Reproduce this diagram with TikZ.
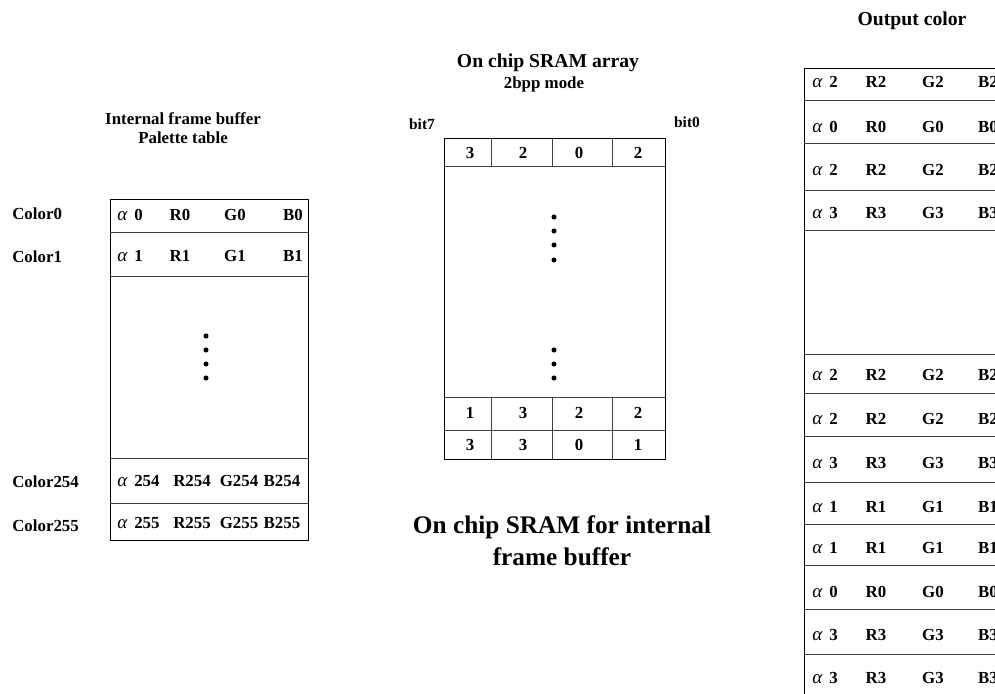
\documentclass[tikz,border=0pt]{standalone}
\usepackage{fontspec}
\setmainfont{Liberation Serif}

\newcommand{\galpha}{{\mdseries\itshape\fontsize{13.5}{14}\selectfont α}\hspace{5pt}}

\begin{document}
\begin{tikzpicture}[
    x=0.025cm, y=-0.025cm,
    txt/.style={font=\bfseries\fontsize{12}{14}\selectfont, inner sep=0pt},
    lft/.style={txt, anchor=west},
    ttl/.style={font=\bfseries\fontsize{14}{16}\selectfont, inner sep=0pt, align=center},
    frame/.style={draw, line width=0.7pt},
    sep/.style={draw=black!75, line width=0.7pt},
    dot/.style={fill, circle, inner sep=0pt, minimum size=3.6pt}
]
    \clip (0,0) rectangle (995,693);

    % Palette table
    \node[txt, align=center, font=\bfseries\fontsize{12}{13.5}\selectfont]
        (paltitle) at (183,128) {Internal frame buffer\\Palette table};
    \draw[frame] (110,199) rectangle (308,540);
    \foreach \y in {232,276,458,503}
        \draw[sep] (110,\y) -- (308,\y);

    \node[lft] (col0)   at (12,214) {Color0};
    \node[lft] (col1)   at (12,257) {Color1};
    \node[lft] (col254) at (12,482) {Color254};
    \node[lft] (col255) at (12,526) {Color255};

    \foreach \y/\k [count=\i] in {215/0,256/1} {
        \node[lft] (pa\i) at (117,\y) {\galpha\k};
        \node[txt] (pr\i) at (180,\y) {R\k};
        \node[txt] (pg\i) at (235,\y) {G\k};
        \node[txt] (pb\i) at (293,\y) {B\k};
    }
    \foreach \y/\k [count=\i from 3] in {481/254,523/255} {
        \node[lft] (pa\i) at (117,\y) {\galpha\k};
        \node[txt] (pr\i) at (192,\y) {R\k};
        \node[txt] (pg\i) at (239,\y) {G\k};
        \node[txt] (pb\i) at (282,\y) {B\k};
    }
    \foreach \y [count=\i] in {336,350,364,378}
        \node[dot] (pdot\i) at (206,\y) {};

    % SRAM array
    \node[ttl] (sramtitle) at (548,63) {On chip SRAM array};
    \node[txt] (sramsub) at (544,84) {2bpp mode};
    \node[txt, font=\bfseries\fontsize{11}{13}\selectfont] (bit7) at (422,124) {bit7};
    \node[txt, font=\bfseries\fontsize{11}{13}\selectfont] (bit0) at (687,122) {bit0};
    \draw[frame] (444,138) rectangle (665,459);
    \foreach \y in {166,397,430}
        \draw[sep] (444,\y) -- (665,\y);
    \foreach \x in {491,552,612} {
        \draw[sep] (\x,138) -- (\x,166);
        \draw[sep] (\x,397) -- (\x,459);
    }
    \foreach \a/\b/\c/\d/\y [count=\i] in {3/2/0/2/153, 1/3/2/2/413, 3/3/0/1/445} {
        \node[txt] (sa\i) at (470,\y) {\a};
        \node[txt] (sb\i) at (523,\y) {\b};
        \node[txt] (sc\i) at (579,\y) {\c};
        \node[txt] (sd\i) at (638,\y) {\d};
    }
    \foreach \y [count=\i] in {217,231,245,260}
        \node[dot] (sdot\i) at (554,\y) {};
    \foreach \y [count=\i from 5] in {350,364,378}
        \node[dot] (sdot\i) at (554,\y) {};

    \node[txt, align=center, font=\bfseries\fontsize{18}{22.7}\selectfont]
        (caption) at (562,541) {On chip SRAM for internal\\frame buffer};

    % Output color
    \node[ttl] (outtitle) at (912,21) {Output color};
    \draw[frame] (804,68) rectangle (1010,700);
    \foreach \y in {100,143,190,230,354,393,436,482,524,565,609,654}
        \draw[sep] (804,\y) -- (1010,\y);
    \foreach \y/\k [count=\i] in {82/2,127/0,170/2,213/3,375/2,419/2,463/3,507/1,548/1,592/0,635/3,678/3} {
        \node[lft] (oa\i) at (812,\y) {\galpha\k};
        \node[txt] (or\i) at (876,\y) {R\k};
        \node[txt] (og\i) at (933,\y) {G\k};
        \node[txt] (ob\i) at (988,\y) {B\k};
    }
\end{tikzpicture}
\end{document}
